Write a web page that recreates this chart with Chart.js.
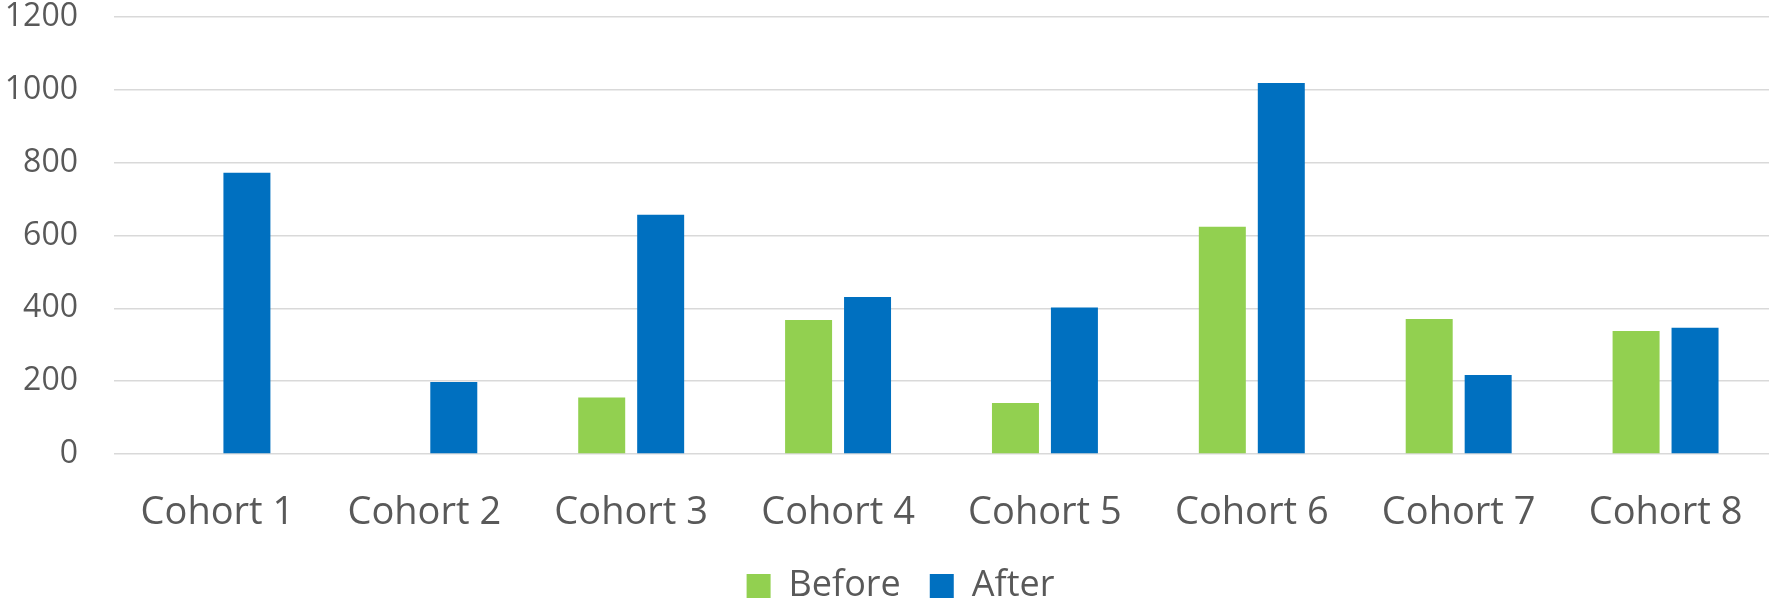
<!DOCTYPE html>
<html>
<head>
<meta charset="utf-8">
<script src="https://cdn.jsdelivr.net/npm/chart.js@4/dist/chart.umd.min.js"></script>
<style>
  html, body { margin: 0; padding: 0; background: #fff; }
  #wrap { width: 1771px; height: 603px; position: relative; }
</style>
</head>
<body>
<div id="wrap"><canvas id="chart"></canvas></div>
<script>
// 데이터
const cohorts = ['Cohort 1', 'Cohort 2', 'Cohort 3', 'Cohort 4', 'Cohort 5', 'Cohort 6', 'Cohort 7', 'Cohort 8'];
const beforeValues = [null, null, 155, 368, 140, 624, 371, 338];
const afterValues = [772, 198, 657, 431, 402, 1019, 217, 347];
const yTicks = [0, 200, 400, 600, 800, 1000, 1200];

const textColor = '#595959';
const gridColor = '#d9d9d9';

// 범례 위치 보정 (엑셀 원본처럼 살짝 오른쪽/아래로)
const legendShift = {
    id: 'legendShift',
    afterLayout(chart) {
        const lg = chart.legend;
        if (!lg) return;
        lg.left += 16; lg.right += 16;
        lg.top += 11; lg.bottom += 11;
    }
};

new Chart(document.getElementById('chart'), {
    type: 'bar',
    data: {
        labels: cohorts,
        datasets: [
            {
                label: 'Before',
                data: beforeValues,
                backgroundColor: '#92d050',
                categoryPercentage: 0.57,
                barPercentage: 0.797
            },
            {
                label: 'After',
                data: afterValues,
                backgroundColor: '#0070c0',
                categoryPercentage: 0.57,
                barPercentage: 0.797
            }
        ]
    },
    plugins: [legendShift],
    options: {
        responsive: true,
        maintainAspectRatio: false,
        animation: false,
        layout: { padding: { top: 17, right: 2, left: 0, bottom: 0 } },
        plugins: {
            tooltip: { enabled: false },
            legend: {
                position: 'bottom',
                labels: {
                    boxWidth: 24,
                    boxHeight: 24,
                    padding: 29,
                    color: textColor,
                    font: { family: 'Open Sans', size: 36 }
                }
            }
        },
        scales: {
            x: {
                grid: { display: false },
                border: { display: false },
                ticks: {
                    color: textColor,
                    padding: 28,
                    maxRotation: 0,
                    font: { family: 'Open Sans', size: 38 }
                },
                afterFit: (scale) => { scale.height = 74; }
            },
            y: {
                min: 0,
                max: 1200,
                afterBuildTicks: (scale) => { scale.ticks = yTicks.map(v => ({ value: v })); },
                grid: { color: gridColor, lineWidth: 1.5, drawTicks: false },
                border: { display: false },
                ticks: {
                    color: textColor,
                    padding: 36,
                    font: { family: 'Open Sans', size: 32 },
                    callback: (value) => String(value)
                },
                afterFit: (scale) => {
                    scale.width = 114;
                    scale.paddingTop = 0;
                    scale.paddingBottom = 0;
                }
            }
        }
    }
});
</script>
</body>
</html>
